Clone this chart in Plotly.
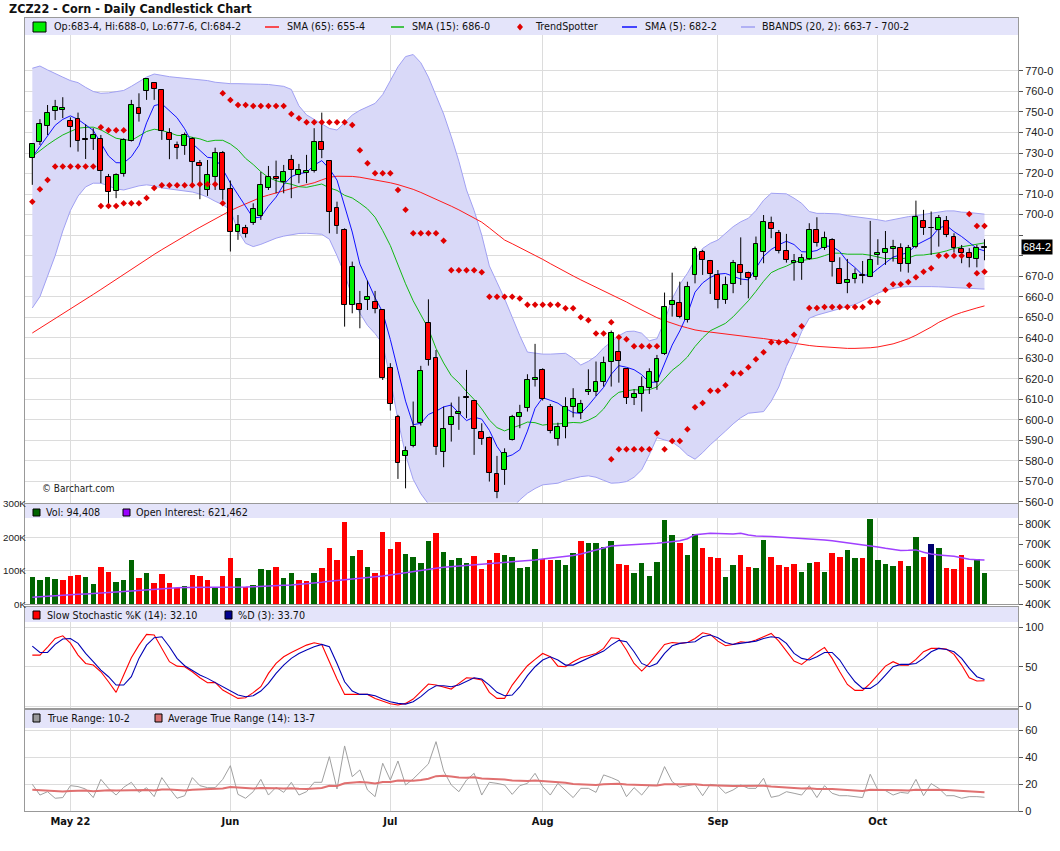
import pandas as pd
import plotly.graph_objects as go
from plotly.subplots import make_subplots

# ---- trading days (Apr 25 - Oct 21 2022, CBOT holidays removed) ----
holidays = ["2022-05-30", "2022-06-20", "2022-07-04", "2022-09-05"]
dates = [d.strftime("%Y-%m-%d")
         for d in pd.bdate_range("2022-04-25", "2022-10-21", freq="C", holidays=holidays)]
month_labels = {5: "May 22", 6: "Jun", 7: "Jul", 8: "Aug", 9: "Sep", 10: "Oct"}

# ---- daily OHLC (cents/bu) ----
opens = [727.5, 735.2, 743.0, 750.4, 751.0, 745.5, 746.5, 736.4, 736.7, 736.9,
         718.2, 711.5, 719.6, 735.9, 751.8, 760.1, 764.0, 760.7, 739.8, 733.8,
         733.5, 736.9, 725.0, 712.0, 718.2, 729.9, 712.3, 691.7, 693.3, 696.1,
         699.5, 713.2, 718.2, 715.7, 726.5, 719.2, 720.2, 721.1, 735.2, 726.2,
         703.4, 692.5, 655.8, 656.3, 658.3, 657.5, 653.5, 625.1, 601.6, 582.4,
         587.3, 598.3, 647.4, 630.0, 584.5, 597.4, 603.0, 610.6, 609.0, 594.3,
         591.3, 573.5, 575.3, 590.2, 601.2, 605.8, 619.3, 624.3, 606.1, 590.5,
         596.4, 606.1, 603.2, 613.4, 613.4, 618.5, 628.0, 633.2, 625.0, 610.5,
         612.5, 615.4, 618.6, 632.3, 655.8, 657.1, 648.7, 670.4, 681.6, 677.6,
         670.4, 658.4, 666.0, 675.3, 671.4, 669.5, 681.6, 695.8, 690.9, 682.3,
         676.6, 676.3, 678.2, 692.4, 683.6, 687.7, 673.4, 666.5, 668.5, 670.8,
         669.8, 680.2, 681.2, 683.1, 683.9, 675.8, 684.1, 697.1, 693.3, 692.5,
         697.1, 689.3, 683.3, 681.2, 678.2, 683.5]
highs = [734.5, 746.5, 753.4, 755.9, 757.2, 747.4, 749.7, 744.0, 742.1, 738.8,
         719.8, 720.1, 737.2, 755.9, 759.1, 766.4, 764.3, 761.1, 742.1, 735.6,
         740.0, 737.7, 726.6, 726.6, 732.6, 731.0, 716.6, 699.8, 695.0, 705.5,
         720.8, 723.7, 726.3, 724.2, 729.1, 724.7, 729.1, 742.1, 749.7, 726.5,
         706.3, 693.3, 677.1, 662.8, 667.8, 662.8, 653.9, 627.6, 602.4, 587.0,
         608.9, 626.3, 658.7, 634.0, 606.4, 608.4, 611.3, 624.3, 609.7, 598.3,
         591.8, 582.4, 586.1, 602.4, 607.3, 622.2, 637.0, 625.1, 607.7, 598.6,
         611.0, 615.4, 609.7, 624.6, 628.4, 630.8, 643.5, 638.9, 625.1, 614.9,
         621.1, 625.1, 631.6, 662.0, 671.7, 667.3, 667.3, 684.4, 682.8, 677.9,
         673.0, 669.8, 677.9, 688.9, 672.2, 689.3, 699.8, 699.0, 692.5, 690.6,
         680.8, 680.8, 695.8, 698.7, 691.7, 688.5, 679.2, 678.4, 673.8, 677.4,
         696.9, 688.0, 692.0, 687.7, 686.0, 685.2, 706.8, 702.3, 701.5, 699.8,
         699.3, 690.9, 685.2, 683.6, 685.2, 688.0]
lows = [714.5, 733.9, 738.8, 746.1, 747.0, 732.8, 730.7, 727.1, 731.5, 715.3,
        703.9, 708.0, 718.5, 735.6, 745.3, 755.9, 755.9, 736.4, 727.0, 727.0,
        729.1, 715.3, 707.5, 709.1, 712.0, 707.2, 682.0, 687.7, 688.8, 695.0,
        697.4, 712.0, 710.4, 710.4, 708.0, 715.3, 715.3, 720.5, 727.5, 690.9,
        690.6, 645.4, 651.9, 644.6, 653.5, 651.9, 619.4, 604.5, 571.2, 566.6,
        586.6, 597.2, 626.4, 582.9, 576.9, 589.4, 595.1, 600.8, 582.9, 587.8,
        569.9, 561.8, 568.3, 589.9, 595.9, 604.0, 616.2, 609.4, 593.4, 587.4,
        591.0, 601.2, 600.3, 612.1, 611.6, 616.2, 616.2, 618.1, 607.7, 607.2,
        604.0, 612.6, 614.6, 631.6, 650.3, 649.5, 647.4, 666.5, 670.6, 661.3,
        654.3, 656.5, 661.7, 665.7, 659.2, 668.2, 676.3, 688.5, 681.1, 676.6,
        667.8, 668.2, 677.9, 684.4, 682.8, 669.8, 666.2, 661.7, 666.5, 666.5,
        669.5, 675.5, 675.5, 677.1, 672.2, 671.7, 683.6, 690.1, 680.3, 684.4,
        689.0, 681.5, 676.3, 674.3, 674.3, 677.75]
closes = [734.3, 744.0, 749.7, 752.3, 751.8, 742.6, 735.7, 736.4, 738.7, 721.1,
          710.9, 719.3, 736.2, 753.3, 748.9, 766.0, 761.1, 740.6, 736.2, 732.3,
          739.0, 725.5, 723.7, 719.2, 730.2, 712.0, 691.7, 694.9, 690.4, 702.6,
          714.3, 718.2, 717.2, 720.6, 721.9, 721.5, 721.3, 735.2, 731.5, 701.5,
          694.5, 655.8, 674.4, 653.5, 659.9, 654.0, 620.2, 607.7, 578.8, 585.0,
          596.4, 623.7, 629.3, 586.6, 595.4, 601.2, 604.0, 610.6, 595.4, 590.5,
          574.0, 564.7, 584.0, 601.2, 603.2, 619.4, 620.2, 610.0, 594.6, 596.4,
          606.4, 610.3, 607.7, 614.4, 618.6, 627.9, 642.5, 628.7, 610.5, 612.5,
          615.9, 623.5, 629.5, 655.2, 657.8, 650.3, 664.6, 683.1, 677.9, 671.1,
          658.4, 665.9, 676.3, 671.4, 669.0, 685.7, 696.3, 692.8, 682.5, 677.9,
          677.6, 678.7, 692.4, 686.0, 688.5, 677.1, 666.2, 668.2, 670.9, 670.0,
          677.7, 681.2, 683.3, 684.1, 675.8, 683.6, 698.7, 693.3, 693.3, 698.2,
          690.1, 683.6, 681.2, 678.7, 683.9, 684.25]

# ---- price studies ----
sma5 = [728.0, 733.0, 738.5, 743.5, 746.4, 748.1, 746.4, 743.8, 741.0, 734.9,
        728.6, 725.3, 725.2, 728.2, 733.7, 744.7, 753.1, 754.0, 750.6, 747.2,
        741.8, 734.7, 731.3, 727.9, 727.5, 722.1, 715.4, 709.6, 703.8, 698.3,
        698.8, 704.1, 708.5, 714.6, 718.5, 720.0, 720.5, 724.1, 726.3, 722.3,
        716.8, 703.7, 691.5, 675.9, 667.6, 659.5, 652.4, 639.1, 624.1, 609.1,
        597.6, 598.3, 602.6, 604.2, 606.3, 607.2, 603.3, 599.6, 601.3, 600.3,
        594.9, 587.0, 581.7, 582.9, 585.4, 594.5, 605.6, 610.8, 609.5, 608.1,
        605.5, 603.5, 603.1, 607.0, 611.5, 615.8, 622.2, 626.4, 625.6, 624.4,
        622.0, 618.2, 618.4, 627.3, 636.4, 643.3, 651.5, 662.2, 666.7, 669.4,
        671.0, 671.3, 669.9, 668.6, 668.2, 673.7, 679.7, 683.0, 685.3, 687.0,
        685.4, 681.9, 681.8, 682.5, 684.7, 684.5, 682.0, 677.2, 674.2, 670.5,
        670.6, 673.6, 676.6, 679.3, 680.4, 681.6, 685.1, 687.1, 688.9, 693.4,
        694.7, 691.7, 689.3, 686.4, 683.5, 682.3]
sma15 = [728.3, 731.2, 734.0, 736.5, 738.8, 740.5, 742.1, 742.5, 742.6, 741.3,
         739.3, 737.2, 736.6, 736.1, 738.3, 740.5, 741.6, 741.0, 739.9, 738.6,
         738.4, 737.7, 736.9, 735.6, 736.2, 736.2, 734.4, 731.6, 727.4, 724.4,
         720.9, 718.1, 716.5, 715.5, 714.8, 713.6, 713.3, 714.1, 714.9, 713.0,
         711.8, 709.4, 708.1, 705.6, 702.8, 698.7, 692.2, 684.9, 675.5, 666.3,
         658.0, 651.5, 644.4, 634.8, 627.7, 621.5, 618.0, 613.8, 609.9, 605.3,
         599.9, 596.2, 594.6, 596.1, 597.3, 598.9, 598.6, 597.4, 597.9, 598.0,
         598.3, 598.7, 598.5, 599.8, 601.7, 605.3, 610.5, 613.4, 614.1, 614.7,
         614.4, 614.7, 616.0, 620.0, 624.1, 627.0, 630.6, 635.7, 639.9, 643.4,
         645.4, 647.0, 650.2, 654.2, 658.0, 662.6, 667.5, 671.7, 673.5, 674.9,
         676.7, 677.6, 678.3, 678.8, 680.0, 681.2, 681.2, 680.7, 680.7, 680.7,
         680.2, 679.2, 678.5, 678.7, 678.5, 678.9, 680.2, 680.3, 680.8, 681.4,
         682.3, 683.5, 684.3, 684.9, 685.8, 686.2]
sma65 = [642.3, 644.6, 646.9, 649.2, 651.5, 653.9, 656.3, 658.7, 661.1, 663.5,
         666.0, 668.5, 671.0, 673.5, 676.0, 678.3, 680.6, 682.9, 685.2, 687.5,
         689.6, 691.7, 693.8, 695.9, 698.0, 700.0, 701.9, 703.6, 705.3, 706.9,
         708.4, 709.5, 710.6, 711.7, 712.8, 713.7, 714.6, 715.5, 716.9, 718.2,
         718.7, 718.8, 718.6, 718.2, 717.6, 717.0, 716.3, 715.5, 714.6, 713.5,
         712.3, 710.8, 709.2, 707.4, 705.8, 704.1, 702.3, 700.4, 698.4, 696.3,
         693.5, 690.6, 687.6, 685.8, 684.0, 682.1, 680.3, 678.2, 676.1, 674.0,
         672.0, 670.1, 668.2, 666.4, 664.6, 662.9, 661.2, 659.4, 657.4, 655.4,
         653.5, 651.6, 649.8, 648.3, 646.9, 645.8, 644.8, 643.8, 643.2, 642.7,
         642.3, 641.8, 641.4, 640.9, 640.5, 640.0, 639.6, 639.0, 638.5, 637.9,
         637.4, 636.8, 636.2, 635.8, 635.5, 635.2, 634.9, 634.8, 634.8, 634.8,
         635.1, 635.5, 636.2, 637.0, 638.2, 639.5, 641.2, 643.0, 645.2, 647.5,
         649.3, 651.0, 652.3, 653.5, 654.5, 655.5]
bb_upper = [771.3, 772.4, 770.5, 768.9, 767.0, 765.3, 764.3, 762.0, 760.0, 759.1,
            759.3, 759.9, 760.5, 762.5, 764.8, 767.0, 768.5, 767.8, 767.2, 766.8,
            766.4, 766.0, 765.6, 765.3, 764.5, 764.0, 763.8, 763.8, 763.6, 763.5,
            763.5, 763.4, 763.0, 762.5, 761.0, 753.0, 748.6, 746.5, 744.5, 742.0,
            741.2, 745.0, 748.5, 750.8, 752.5, 754.2, 758.5, 765.0, 772.0, 777.0,
            778.0, 774.0, 767.0, 758.0, 749.0, 738.0, 726.0, 712.0, 702.0, 690.0,
            675.0, 667.0, 659.0, 650.0, 641.0, 633.0, 632.4, 632.0, 632.0, 632.2,
            632.4, 630.0, 626.7, 628.5, 631.0, 635.0, 638.1, 641.0, 643.0, 643.2,
            642.2, 638.5, 639.5, 648.0, 659.0, 666.0, 671.4, 678.0, 683.5, 686.0,
            687.6, 691.0, 694.1, 696.5, 698.2, 702.0, 707.0, 710.4, 710.3, 710.1,
            708.0, 705.5, 701.5, 700.6, 700.6, 700.6, 700.3, 699.5, 699.0, 698.5,
            698.2, 697.5, 696.8, 697.5, 698.5, 699.0, 699.5, 700.0, 700.6, 701.2,
            701.8, 701.8, 701.2, 701.0, 700.6, 700.2]
bb_lower = [654.5, 660.0, 670.0, 680.0, 692.0, 702.0, 709.0, 713.5, 715.3, 715.3,
            714.0, 712.5, 712.0, 713.0, 714.0, 714.5, 714.0, 713.0, 712.5, 712.0,
            711.5, 711.0, 710.0, 708.5, 706.5, 704.8, 702.3, 692.0, 686.0, 684.4,
            685.5, 687.0, 688.5, 689.5, 690.3, 690.8, 690.9, 690.8, 690.4, 688.0,
            680.0, 671.0, 660.0, 652.0, 646.0, 642.0, 637.0, 620.0, 600.0, 583.0,
            571.0, 564.0, 559.0, 556.0, 553.0, 551.0, 550.0, 550.0, 551.0, 552.0,
            553.0, 554.0, 555.0, 557.0, 561.0, 564.2, 566.5, 568.3, 568.8, 569.1,
            570.5, 571.5, 572.3, 572.7, 572.0, 570.5, 569.1, 569.3, 569.9, 572.0,
            575.6, 583.0, 591.3, 590.2, 589.2, 586.5, 582.9, 580.8, 584.0, 587.8,
            591.0, 594.5, 598.0, 601.0, 603.2, 603.6, 604.0, 609.0, 616.0, 626.0,
            634.0, 643.0, 649.5, 651.0, 652.0, 653.0, 654.0, 655.2, 656.2, 658.0,
            660.0, 661.7, 663.2, 664.0, 664.7, 664.9, 665.0, 665.0, 664.9, 664.8,
            664.6, 664.5, 664.3, 664.1, 664.0, 663.7]
N7 = [None] * 7
N10 = [None] * 10
ts_below = ([706.3, 712.4, 716.9, 723.4, 723.4, 723.4, 723.4, 723.4, 723.4, 704.2,
             704.2, 704.2, 705.5, 705.5, 705.5, 708.1, 713.0, 714.3, 714.3, 714.3,
             714.3, 714.3, 714.8, 714.8, 714.8, 705.5, None, None, None, None]
            + N10 + N10 + N10 + N10
            + [None, None, None, None, None, None, 580.8, 585.7, 585.7, 585.7,
               585.7, 585.7, 593.5, 585.7, 589.7, 589.7, 595.4, 606.1, 608.2, 614.2,
               614.2, 616.8, 622.7, 622.7, 625.6, 629.5, 632.9, 637.8, 637.8, 638.1,
               641.4, 645.6, 654.5, 654.5, 655.0, 655.0, 655.0, 655.0, 655.0, 655.0,
               657.4, 657.4, 663.3, 666.1, 666.1, 667.2, 669.5, 672.1, 673.8, 679.9,
               679.9, 679.9, 679.9, 665.6, 671.4, 672.1])
ts_above = ([None] * 9 + [742.6, 741.1, 741.1, 741.1] + N7
            + [None] * 5 + [759.1, 755.9, 753.4, 753.4, 752.9,
               752.9, 752.9, 752.9, 752.9, 749.0, 746.9, 745.0, 745.0, 745.0, 745.0,
               745.0, 745.0, 743.7, 731.3, 725.0, 720.1, 720.1, 720.1, 712.0, 702.3,
               690.9, 690.9, 690.9, 690.9, 687.3, 672.9, 672.9, 672.9, 672.9, 671.9,
               660.0, 660.0, 660.0, 660.0, 659.1, 656.1, 656.1, 656.1, 656.1, 656.1,
               654.3, 654.3, 650.0, 648.5, 642.0, 642.0, 647.5, 640.2, 639.2, 635.8,
               635.8, 635.8, 635.8] + N7
            + N10 + N10 + N10 + [None, None, None, 700.3, 694.5, 694.5])

# ---- volume (thousands) and open interest (thousands) ----
volume_k = [80.6, 72.6, 80.6, 75.6, 72.6, 84.6, 86.6, 80.6, 59.7, 110.4,
            95.5, 65.7, 71.6, 131.3, 77.6, 92.5, 62.7, 89.6, 62.7, 48.8,
            53.7, 86.6, 83.6, 71.6, 50.7, 83.6, 137.3, 77.6, 50.7, 56.7,
            104.5, 102.5, 110.4, 77.6, 92.5, 71.6, 68.7, 92.5, 107.5, 167.2,
            131.3, 244.8, 143.3, 161.2, 110.4, 92.5, 214.9, 164.2, 185.1, 149.3,
            140.3, 122.4, 190.0, 212.9, 155.2, 131.3, 137.3, 123.4, 143.3, 105.5,
            131.3, 153.2, 147.3, 141.3, 108.5, 112.4, 165.2, 135.3, 132.3, 132.3,
            117.4, 153.2, 189.1, 183.1, 183.1, 172.1, 189.1, 120.4, 117.4, 93.5,
            123.4, 84.6, 126.4, 251.7, 207.0, 183.1, 147.3, 210.0, 168.2, 141.3,
            138.3, 81.6, 117.4, 147.3, 111.4, 108.5, 192.0, 141.3, 117.4, 111.4,
            120.4, 96.5, 123.4, 126.4, 96.5, 153.2, 141.3, 162.2, 138.3, 138.3,
            254.7, 132.3, 120.4, 114.4, 129.4, 114.4, 200.0, 141.3, 180.1, 168.2,
            108.5, 105.5, 147.3, 111.4, 135.3, 94.4]
open_int_k = [435, 438, 441, 443, 446, 448, 450, 452, 454, 455,
              458, 461, 464, 467, 470, 474, 477, 480, 483, 483,
              484, 484, 485, 485, 485, 485, 485, 485, 486, 488,
              489, 491, 493, 495, 497, 500, 502, 506, 510, 515,
              520, 524, 527, 530, 533, 535, 541, 547, 553, 559,
              565, 570, 575, 580, 585, 588, 590, 593, 596, 598,
              601, 604, 607, 610, 614, 618, 622, 626, 630, 634,
              638, 644, 652, 662, 673, 683, 691, 694, 696, 698,
              699, 701, 705, 709, 713, 718, 728, 748, 752, 755,
              754, 752, 751, 755, 746, 742, 742, 739, 736, 734,
              732, 729, 727, 725, 721, 718, 713, 709, 705, 700,
              695, 687, 680, 674, 669, 670, 672, 660, 651, 647,
              644, 640, 633, 625, 623, 621.5]

# ---- slow stochastic ----
stoch_k = [64.8, 64.8, 75.0, 86.0, 89.4, 80.0, 64.8, 54.2, 52.1, 43.6,
           30.9, 17.4, 39.4, 61.4, 77.5, 91.1, 90.3, 73.3, 56.4, 50.8,
           50.0, 43.6, 36.0, 29.7, 30.1, 20.3, 14.8, 9.7, 10.6, 17.0,
           24.6, 41.5, 54.2, 62.7, 68.2, 72.5, 77.5, 80.5, 78.4, 56.4,
           34.3, 14.8, 14.8, 14.0, 14.8, 9.7, 6.8, 3.0, 1.3, 3.4,
           8.9, 19.1, 28.0, 26.7, 24.6, 21.6, 28.8, 36.0, 35.2, 33.1,
           17.4, 9.7, 9.7, 26.7, 39.4, 51.3, 59.3, 66.9, 62.7, 50.8,
           50.0, 56.4, 61.4, 64.0, 66.9, 73.3, 86.9, 86.0, 71.2, 54.2,
           44.5, 54.2, 66.9, 78.4, 80.9, 79.7, 80.9, 86.0, 93.2, 91.1,
           82.6, 76.7, 78.4, 81.8, 80.9, 83.9, 88.1, 92.4, 82.6, 69.1,
           57.2, 53.0, 60.6, 68.2, 74.6, 60.6, 43.6, 27.5, 19.9, 19.9,
           28.8, 39.4, 50.8, 56.4, 52.1, 52.1, 59.3, 69.1, 73.3, 73.3,
           72.5, 65.7, 52.1, 36.0, 31.8, 32.1]
stoch_d = [76.3, 68.2, 68.2, 78.4, 85.2, 86.0, 79.7, 66.9, 56.4, 45.8,
           37.3, 26.7, 26.7, 37.3, 60.6, 77.5, 86.9, 88.1, 75.4, 60.6,
           51.3, 45.8, 39.4, 35.2, 30.1, 24.6, 19.1, 14.0, 11.9, 13.1,
           19.1, 28.8, 41.5, 52.1, 60.6, 66.9, 71.2, 75.4, 78.4, 75.4,
           54.2, 30.9, 19.1, 14.8, 14.8, 13.1, 8.9, 5.5, 3.4, 2.5,
           5.5, 11.9, 20.3, 25.8, 25.8, 24.6, 26.7, 30.9, 36.0, 34.3,
           26.7, 17.4, 13.1, 14.0, 24.6, 38.6, 50.0, 58.5, 62.7, 58.5,
           52.1, 52.1, 56.4, 60.6, 64.8, 69.9, 77.5, 83.5, 81.8, 69.1,
           54.2, 50.0, 54.2, 66.9, 76.7, 79.7, 80.9, 81.8, 88.1, 90.3,
           86.9, 80.9, 78.4, 79.7, 80.9, 82.6, 86.0, 88.1, 86.9, 79.7,
           66.9, 60.6, 58.5, 62.7, 68.2, 68.2, 58.5, 43.6, 30.9, 22.5,
           22.5, 28.8, 39.4, 50.0, 53.0, 53.0, 54.2, 60.6, 69.1, 73.3,
           72.0, 69.1, 60.6, 47.9, 37.3, 33.7]

# ---- true range / ATR ----
true_range = [19.9, 11.9, 14.4, 9.5, 10.0, 18.9, 18.2, 16.4, 10.0, 23.6,
              16.9, 11.9, 17.7, 21.4, 13.9, 17.4, 10.7, 24.9, 16.9, 9.5,
              11.4, 24.9, 18.9, 17.4, 17.4, 23.6, 33.8, 12.4, 9.5, 14.4,
              23.6, 11.9, 17.7, 13.9, 21.4, 11.9, 14.4, 21.4, 21.4, 40.5,
              16.4, 48.5, 25.6, 30.6, 15.7, 10.7, 35.6, 23.1, 37.3, 19.4,
              23.9, 29.4, 35.1, 51.7, 29.9, 19.4, 14.4, 23.1, 28.1, 11.9,
              21.4, 20.6, 19.4, 12.4, 18.9, 20.6, 28.1, 18.2, 11.9, 20.6,
              14.9, 10.0, 16.9, 16.9, 13.9, 26.9, 24.9, 22.4, 10.7, 17.4,
              11.9, 18.9, 18.9, 33.1, 21.9, 17.7, 18.9, 19.9, 11.4, 19.9,
              18.9, 13.2, 15.7, 19.4, 16.9, 16.9, 24.4, 10.2, 11.4, 14.4,
              13.2, 11.9, 18.9, 10.0, 18.9, 13.2, 11.4, 11.4, 10.7, 10.0,
              27.4, 15.7, 15.2, 11.9, 13.9, 13.2, 23.6, 11.4, 20.4, 16.9,
              11.4, 11.4, 9.5, 10.7, 10.7, 10.25]
atr14 = [15.8, 15.5, 15.4, 15.0, 14.6, 14.9, 15.1, 15.2, 14.8, 15.4,
         15.5, 15.2, 15.4, 15.8, 15.6, 15.7, 15.3, 16.0, 16.0, 15.5,
         15.2, 15.9, 16.1, 16.2, 16.2, 16.7, 17.9, 17.5, 16.9, 16.7,
         17.2, 16.8, 16.9, 16.7, 17.0, 16.6, 16.4, 16.8, 17.1, 18.8,
         18.6, 20.7, 21.0, 21.7, 21.3, 20.5, 21.6, 21.7, 22.8, 22.5,
         22.6, 23.1, 24.0, 26.0, 26.2, 25.7, 24.9, 24.8, 25.1, 24.2,
         24.0, 23.8, 23.5, 22.7, 22.4, 22.3, 22.7, 22.4, 21.6, 21.5,
         21.0, 20.2, 20.0, 19.8, 19.4, 19.9, 20.2, 20.4, 19.7, 19.5,
         19.0, 19.0, 19.0, 20.0, 20.1, 19.9, 19.9, 19.9, 19.3, 19.3,
         19.3, 18.9, 18.6, 18.7, 18.5, 18.4, 18.8, 18.2, 17.7, 17.5,
         17.2, 16.8, 16.9, 16.4, 16.6, 16.4, 16.0, 15.7, 15.4, 15.0,
         15.9, 15.9, 15.8, 15.5, 15.4, 15.3, 15.9, 15.6, 15.9, 15.9,
         15.6, 15.3, 14.9, 14.6, 14.3, 13.9]

n = len(dates)
for arr in (opens, highs, lows, closes, sma5, sma15, sma65, bb_upper, bb_lower, ts_below,
            ts_above, volume_k, open_int_k, stoch_k, stoch_d, true_range, atr14):
    assert len(arr) == n, len(arr)


def fmt8(p):
    """price in cents -> barchart style '684-2' (eighths)"""
    whole = int(p)
    eighths = int(round((p - whole) * 8))
    if eighths == 8:
        whole, eighths = whole + 1, 0
    return f"{whole}-{eighths}"


# candle bodies: base = lower of open/close, a hairline for dojis
body_base = [min(o, c) for o, c in zip(opens, closes)]
body_size = [max(abs(c - o), 0.3) for o, c in zip(opens, closes)]
body_colors = ["#00ee00" if c > o else "#ff0000" for o, c in zip(opens, closes)]
wick_len = [h - l for h, l in zip(highs, lows)]

# volume bars coloured by close vs previous close
vol_colors = []
for i, c in enumerate(closes):
    prev = closes[i - 1] if i > 0 else opens[0]
    vol_colors.append("#006400" if c > prev else ("#ff0000" if c < prev else "#000070"))

tick_vals, tick_text = [], []
for k in range(1, n):
    if dates[k][5:7] != dates[k - 1][5:7]:
        tick_vals.append(dates[k])
        tick_text.append("<b>" + month_labels[int(dates[k][5:7])] + "</b>")

# ---- page geometry (pixels) ----
W, H = 1060, 851
ML, MR, MT, MB = 25, 42, 18, 40
PW, PH = W - ML - MR, H - MT - MB


def px(X):
    return (X - ML) / PW


def py(Y):
    return (H - MB - Y) / PH


NARROW = "DejaVu Sans Condensed, sans-serif"
REG = "Liberation Sans, Arial, sans-serif"
GRID = "#dcdcdc"
FRAME = "#999999"
PRICE_RANGE = [559.7, 795.8]

fig = make_subplots(rows=4, cols=1, shared_xaxes=True, vertical_spacing=0.005,
                    specs=[[{}], [{"secondary_y": True}], [{}], [{}]])

# price panel: band, averages and wicks on y; bodies and TrendSpotter on overlay y6
fig.add_trace(go.Scatter(x=dates, y=bb_lower, mode="lines", line=dict(color="#a0a0f2", width=1),
                         hoverinfo="skip"), row=1, col=1)
fig.add_trace(go.Scatter(x=dates, y=bb_upper, mode="lines", line=dict(color="#a0a0f2", width=1),
                         fill="tonexty", fillcolor="#d9d9f8", hoverinfo="skip"), row=1, col=1)
fig.add_trace(go.Scatter(x=dates, y=sma65, mode="lines", line=dict(color="#ff1a1a", width=1)),
              row=1, col=1)
fig.add_trace(go.Scatter(x=dates, y=sma15, mode="lines", line=dict(color="#12b812", width=1)),
              row=1, col=1)
fig.add_trace(go.Scatter(x=dates, y=sma5, mode="lines", line=dict(color="#1010ff", width=1)),
              row=1, col=1)
fig.add_trace(go.Scatter(x=dates, y=highs, mode="markers", marker=dict(size=1, opacity=0),
                         error_y=dict(type="data", symmetric=False, array=[0] * n,
                                      arrayminus=wick_len, width=0, thickness=1, color="black")),
              row=1, col=1)
fig.add_trace(go.Bar(x=dates, y=body_size, base=body_base, width=0.64, xaxis="x", yaxis="y6",
                     marker=dict(color=body_colors, line=dict(color="black", width=1))))
for ts in (ts_below, ts_above):
    fig.add_trace(go.Scatter(x=dates, y=ts, mode="markers", xaxis="x", yaxis="y6",
                             marker=dict(symbol="diamond", size=5, color="#e00000")))

# volume + open interest
fig.add_trace(go.Bar(x=dates, y=volume_k, width=0.72, marker=dict(color=vol_colors, line=dict(width=0))),
              row=2, col=1)
fig.add_trace(go.Scatter(x=dates, y=open_int_k, mode="lines", line=dict(color="#a040ff", width=1.5)),
              row=2, col=1, secondary_y=True)

# stochastic
fig.add_trace(go.Scatter(x=dates, y=stoch_k, mode="lines", line=dict(color="#ff0000", width=1.1)),
              row=3, col=1)
fig.add_trace(go.Scatter(x=dates, y=stoch_d, mode="lines", line=dict(color="#0000b4", width=1.1)),
              row=3, col=1)

# true range / ATR
fig.add_trace(go.Scatter(x=dates, y=true_range, mode="lines", line=dict(color="#a0a0a0", width=1)),
              row=4, col=1)
fig.add_trace(go.Scatter(x=dates, y=atr14, mode="lines", line=dict(color="#e07070", width=2)),
              row=4, col=1)

fig.update_xaxes(type="category", range=[-0.96, 129.4], domain=[0, 1], tickvals=tick_vals,
                 ticktext=tick_text, showgrid=True, gridcolor=GRID, showline=True, mirror=True,
                 linecolor=FRAME, zeroline=False, showticklabels=False, ticks="", automargin=False)
fig.update_xaxes(showticklabels=True, tickfont=dict(family=NARROW, size=11, color="#111"),
                 row=4, col=1)

axis_common = dict(showgrid=True, gridcolor=GRID, showline=True, mirror=True, linecolor=FRAME,
                   zeroline=False, ticks="outside", ticklen=4, tickcolor="#555", automargin=False,
                   tickfont=dict(family=REG, size=11, color="#222"))
price_ticks = list(range(560, 780, 10))
# the last-price tag covers the neighbouring axis label
price_labels = ["" if abs(v - closes[-1]) < 6 else fmt8(v) for v in price_ticks]
fig.update_layout(
    width=W, height=H, margin=dict(l=ML, r=MR, t=MT, b=MB),
    paper_bgcolor="white", plot_bgcolor="white", showlegend=False, bargap=0,
    xaxis_rangeslider_visible=False,
    yaxis=dict(axis_common, domain=[py(502.5), 1], side="right", range=PRICE_RANGE,
               tickvals=price_ticks, ticktext=price_labels),
    yaxis6=dict(overlaying="y", anchor="x", range=PRICE_RANGE, visible=False, showgrid=False),
    yaxis2=dict(axis_common, domain=[py(604.3), py(504)], side="left", range=[0, 300],
                tickvals=[0, 100, 200, 300], showticklabels=False, ticks=""),
    yaxis3=dict(axis_common, domain=[py(604.3), py(504)], side="right", range=[400, 901.5],
                showgrid=False, tickvals=[400, 500, 600, 700, 800],
                ticktext=["400K", "500K", "600K", "700K", "800K"]),
    yaxis4=dict(axis_common, domain=[py(708), py(607)], side="right", range=[-2.5, 126],
                tickvals=[0, 50, 100]),
    yaxis5=dict(axis_common, domain=[0, py(710)], side="right", range=[0, 75.3],
                tickvals=[0, 20, 40, 60]),
)

shapes, annotations = [], []
LEG = dict(family=NARROW, size=10.7, color="#111")


def text(X, Y, s, font=LEG, **kw):
    annotations.append(dict(x=px(X), y=py(Y), xref="paper", yref="paper", text=s, showarrow=False,
                            xanchor="left", yanchor="middle", font=font, **kw))


def square(X0, Y0, X1, Y1, color):
    shapes.append(dict(type="rect", xref="paper", yref="paper", x0=px(X0), x1=px(X1), y0=py(Y1),
                       y1=py(Y0), fillcolor=color, line=dict(color="black", width=1), layer="above"))


def swatch(X0, X1, Y, color, width=1.5):
    shapes.append(dict(type="line", xref="paper", yref="paper", x0=px(X0), x1=px(X1), y0=py(Y),
                       y1=py(Y), line=dict(color=color, width=width), layer="above"))


# volume scale on the left edge (labels flush to the panel, kept inside the page)
for v in [0, 100, 200, 300]:
    annotations.append(dict(x=0, y=v, xref="paper", yref="y2", text=f"{v}K", showarrow=False,
                            xanchor="right", yanchor="middle", xshift=2, borderpad=0,
                            font=dict(family=REG, size=9.8, color="#222")))

# legend bands across the top of every panel
for Y0, Y1 in [(18, 35), (504, 518), (607, 622), (710, 728)]:
    shapes.append(dict(type="rect", xref="paper", yref="paper", x0=0, x1=1, y0=py(Y1), y1=py(Y0),
                       fillcolor="#e4e4fa", line=dict(width=0), layer="above"))

square(33, 22, 46, 32, "#00ee00")
text(52, 27, "Op:683-4, Hi:688-0, Lo:677-6, Cl:684-2")
swatch(265, 279, 27, "#ff1a1a")
text(285, 27, "SMA (65): 655-4")
swatch(391, 404, 27, "#12b812")
text(410, 27, "SMA (15): 686-0")
dx, dy = 3.0, 3.5
shapes.append(dict(type="path", xref="paper", yref="paper", layer="above",
                   path=(f"M {px(520)},{py(27 - dy)} L {px(520 + dx)},{py(27)} "
                         f"L {px(520)},{py(27 + dy)} L {px(520 - dx)},{py(27)} Z"),
                   fillcolor="#e00000", line=dict(width=0)))
text(533, 27, "TrendSpotter")
swatch(622, 637, 27, "#1010ff")
text(643, 27, "SMA (5): 682-2")
swatch(741, 755, 27, "#a0a0f2")
text(760, 27, "BBANDS (20, 2): 663-7 - 700-2")

square(33, 509, 40, 516, "#006400")
text(44, 512.5, "Vol: 94,408")
square(123, 509, 130, 516, "#9900ff")
text(134, 512.5, "Open Interest: 621,462")

square(33, 611, 40, 619, "#ff0000")
text(45, 615, "Slow Stochastic %K (14): 32.10")
square(225, 611, 232, 619, "#000090")
text(236, 615, "%D (3): 33.70")

square(33, 714, 40, 722, "#999999")
text(45, 718.5, "True Range: 10-2")
square(155, 714, 162, 722, "#d87070")
text(166, 718.5, "Average True Range (14): 13-7")

text(40, 488, "© Barchart.com", font=dict(family=NARROW, size=10, color="#222"))
text(7, 9, "<b>ZCZ22 - Corn - Daily Candlestick Chart</b>", font=dict(family=NARROW, size=12.5, color="#111"))

# last price tag on the price axis
annotations.append(dict(x=1, y=closes[-1], xref="paper", yref="y", text=fmt8(closes[-1]),
                        showarrow=False, xanchor="left", yanchor="middle", xshift=3,
                        bgcolor="black", borderpad=1, font=dict(family=REG, size=11, color="white")))

fig.update_layout(shapes=shapes, annotations=annotations)
# the page's default 8px body margin would shift the whole chart
fig.write_html("out.html", config={"displayModeBar": False},
               post_script="document.body.style.margin='0';")
